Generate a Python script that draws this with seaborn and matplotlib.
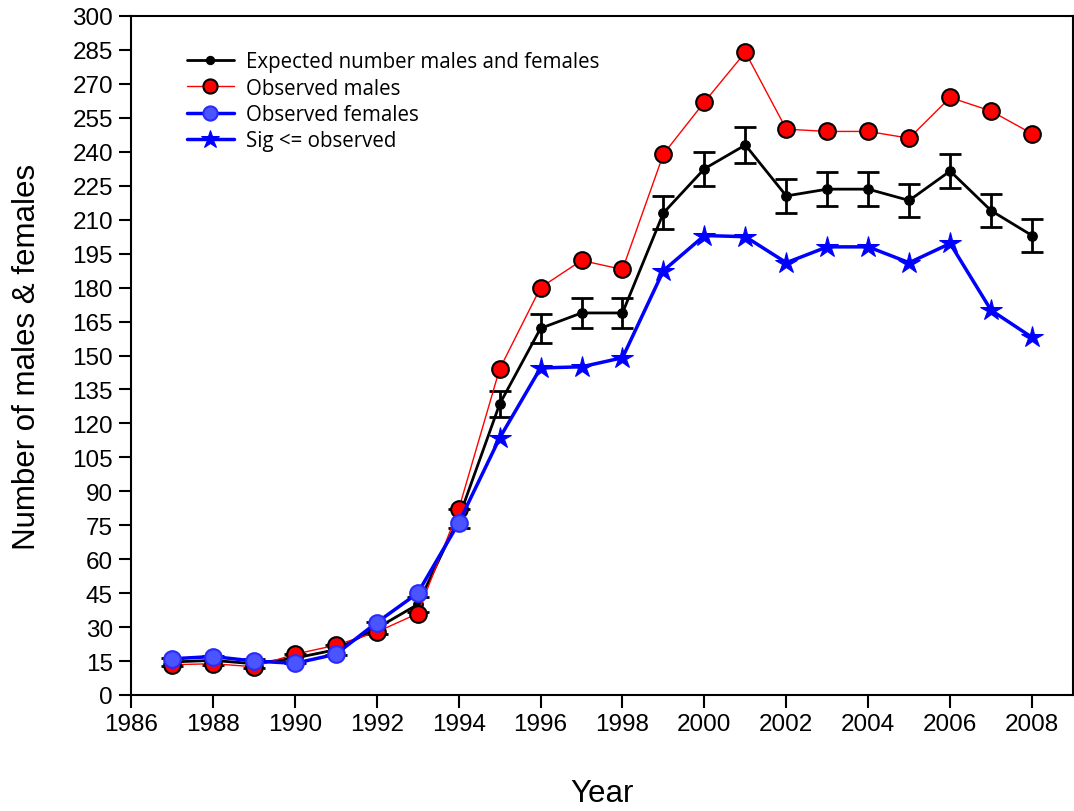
import matplotlib
matplotlib.use("Agg")
import matplotlib.pyplot as plt
import seaborn as sns
import pandas as pd
import numpy as np

years = list(range(1987, 2009))
expected = [14.6, 15.3, 13.8, 16.3, 20.0, 29.5, 40.0, 78.0, 128.5, 162.0, 168.8, 168.8,
            213.0, 232.5, 243.0, 220.5, 223.5, 223.5, 218.5, 231.5, 214.0, 203.0]
expected_err = [1.9, 2.0, 1.9, 2.0, 2.2, 2.7, 3.2, 4.4, 5.6, 6.4, 6.5, 6.5,
                7.3, 7.6, 7.8, 7.4, 7.5, 7.5, 7.4, 7.6, 7.3, 7.1]
obs_males = [13.4, 13.8, 12.5, 18.0, 22.0, 27.8, 36.0, 82.0, 144.0, 180.0, 192.0, 188.0,
             239.0, 262.0, 284.0, 250.0, 249.0, 249.0, 246.0, 264.0, 258.0, 248.0]
fem_years = list(range(1987, 1995))
obs_females = [16.0, 17.0, 15.0, 14.0, 18.0, 32.0, 45.0, 76.0]
sig_years = list(range(1994, 2009))
sig_obs = [76.0, 113.5, 144.5, 145.0, 149.0, 187.5, 203.0, 202.5, 191.0, 198.0, 198.0,
           191.0, 199.5, 170.0, 158.0]

df_exp = pd.DataFrame({"Year": years, "v": expected, "err": expected_err})
df_m = pd.DataFrame({"Year": years, "v": obs_males})
df_f = pd.DataFrame({"Year": fem_years, "v": obs_females})
df_s = pd.DataFrame({"Year": sig_years, "v": sig_obs})

sns.set_theme(style="ticks")
plt.rcParams["font.family"] = ["Liberation Sans", "DejaVu Sans"]
plt.rcParams["text.color"] = "black"
plt.rcParams["axes.labelcolor"] = "black"
plt.rcParams["xtick.color"] = "black"
plt.rcParams["ytick.color"] = "black"
plt.rcParams["xtick.labelcolor"] = "black"
plt.rcParams["ytick.labelcolor"] = "black"

fig = plt.figure(figsize=(10.74, 8.12), dpi=100)
ax = fig.add_axes([131/1074, 1-696/812, (1073-131)/1074, (696-17)/812])

ax.errorbar(df_exp["Year"], df_exp["v"], yerr=df_exp["err"], fmt="none",
            ecolor="black", elinewidth=2, capsize=8, capthick=2, zorder=2)

sns.lineplot(data=df_exp, x="Year", y="v", ax=ax, color="black", lw=2,
             marker="o", markersize=7, markeredgecolor="black", markerfacecolor="black",
             label="Expected number males and females", zorder=3)
sns.lineplot(data=df_m, x="Year", y="v", ax=ax, color="#ff0000", lw=1,
             marker="o", markersize=12, markeredgecolor="black", markeredgewidth=1.5,
             markerfacecolor="#ff0000", label="Observed males", zorder=4)
sns.lineplot(data=df_s, x="Year", y="v", ax=ax, color="#0000ff", lw=2.5,
             marker="*", markersize=16, markeredgecolor="#0000ff", markerfacecolor="#0000ff",
             markevery=list(range(1, len(sig_years))), label="Sig <= observed", zorder=5)
sns.lineplot(data=df_f, x="Year", y="v", ax=ax, color="#0000ff", lw=2.5,
             marker="o", markersize=12, markeredgecolor="#2a2aff", markeredgewidth=1.5,
             markerfacecolor="#4a55ff", label="Observed females", zorder=6)

ax.set_xlim(1986, 2009)
ax.set_ylim(0, 300)
ax.set_xticks(list(range(1986, 2009, 2)))
ax.set_yticks(list(range(0, 301, 15)))
ax.tick_params(axis="both", labelsize=17.5, length=9, width=1.5, color="black",
               labelcolor="black", direction="out", pad=4)
for s in ax.spines.values():
    s.set_visible(True)
    s.set_color("black")
    s.set_linewidth(1.5)
ax.set_xlabel("Year", fontsize=22.5, labelpad=31, color="black")
ax.set_ylabel("Number of males & females", fontsize=22.5, labelpad=22, color="black")

h, l = ax.get_legend_handles_labels()
order = ["Expected number males and females", "Observed males", "Observed females", "Sig <= observed"]
hh = [h[l.index(o)] for o in order]
leg = ax.legend(hh, order, loc="upper left", bbox_to_anchor=(0.059, 0.948), frameon=False,
                handlelength=2.3, labelspacing=0.26, handletextpad=0.6, borderpad=0,
                borderaxespad=0, prop={"family": ["Open Sans", "DejaVu Sans"], "size": 14.8})
for txt in leg.get_texts():
    txt.set_color("black")
for lh in leg.legend_handles:
    try:
        lh.set_markersize(lh.get_markersize() * 0.85)
    except Exception:
        pass

fig.savefig("out.png", dpi=100)
